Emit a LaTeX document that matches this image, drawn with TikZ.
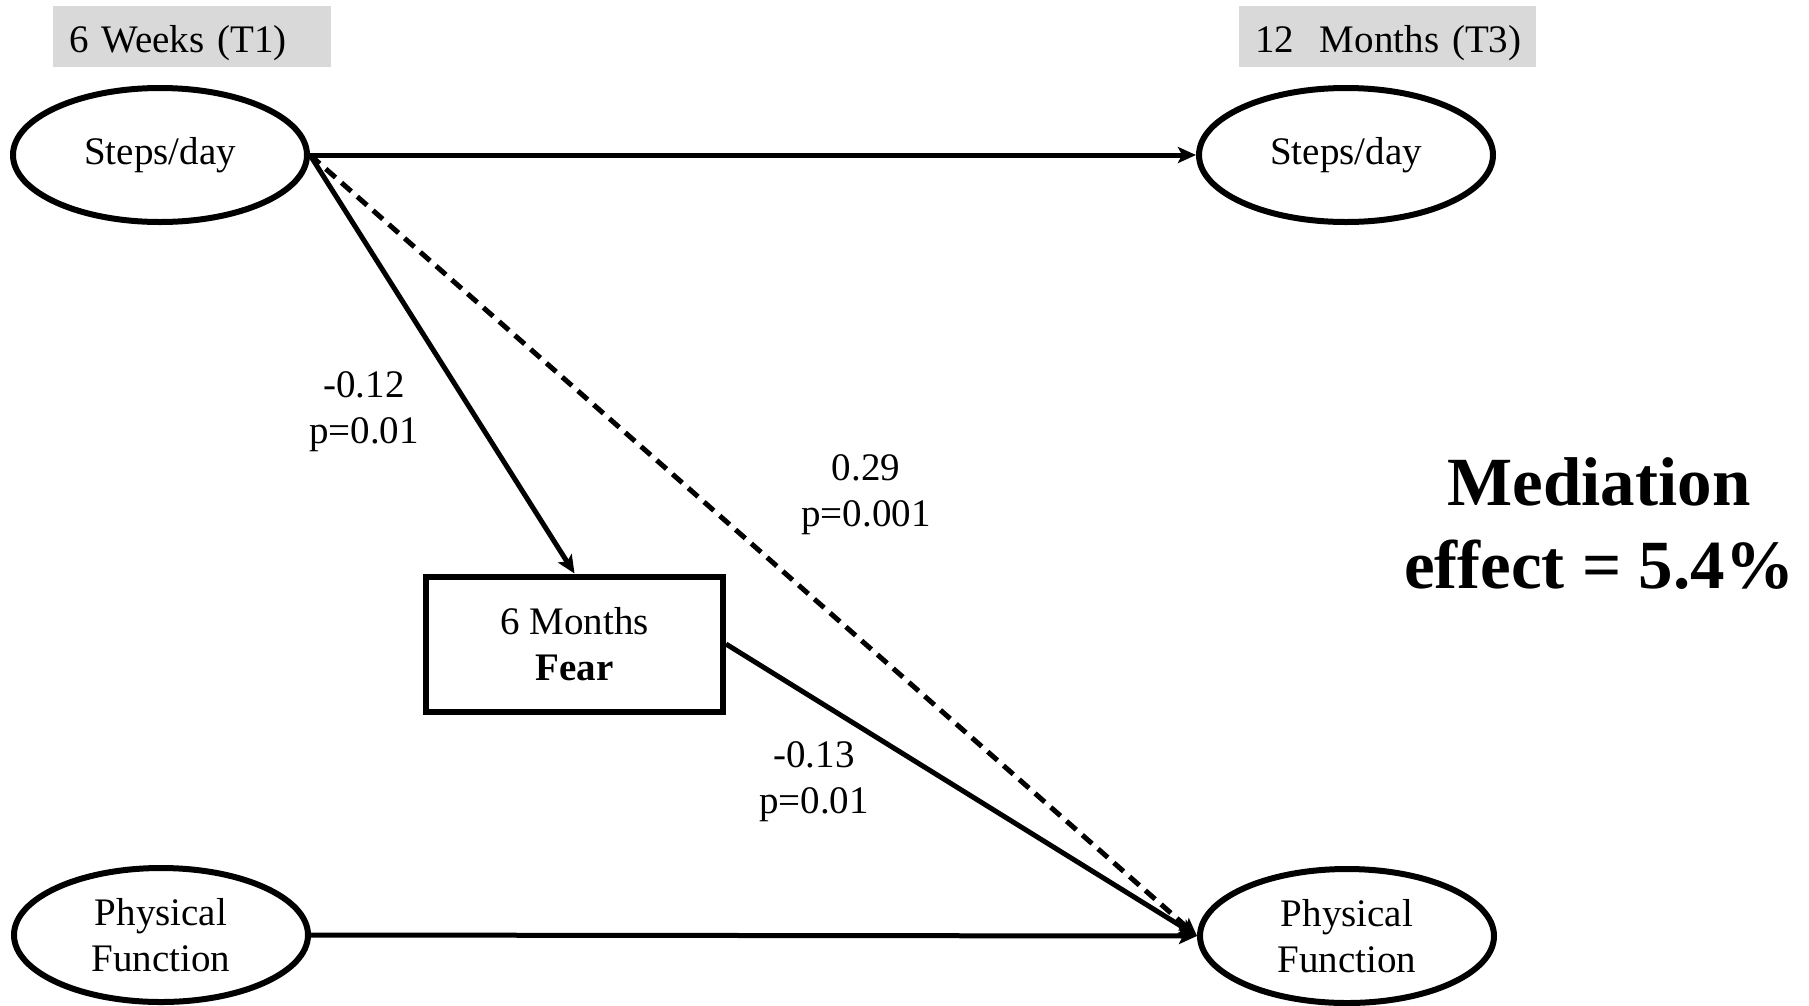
\documentclass[tikz,border=0pt]{standalone}
\usepackage{fontspec}
\setmainfont{Liberation Serif}
\usetikzlibrary{shapes.geometric,arrows.meta}
\definecolor{headgray}{HTML}{D9D9D9}
\begin{document}
\begin{tikzpicture}[x=1pt,y=-1pt,
  txt/.style={font=\fontsize{39}{46}\selectfont, align=center},
  timebox/.style={txt, fill=headgray, inner xsep=16pt, inner ysep=0pt,
    minimum height=61pt, text height=31pt, text depth=0pt, align=left},
  latent/.style={txt, ellipse, draw, line width=6pt, inner sep=0pt,
    minimum width=294pt, minimum height=134pt},
  mediator/.style={txt, rectangle, draw, line width=6pt, inner sep=0pt,
    minimum width=297pt, minimum height=135pt},
  path/.style={line width=5pt, -{Stealth[length=18pt,width=16pt,inset=4pt]}},
  coef/.style={txt, inner sep=0pt}
]
\useasboundingbox (0,0) rectangle (1809,1005);

% time point headers
\node[timebox, text width=246pt] (t1) at (192,36.5) {\mbox{6 Weeks (T1)}};
\node[timebox, text width=265pt] (t3) at (1387.5,36.5) {\mbox{12\ \ Months (T3)}};

% variables
\node[latent] (s1) at (160,155) {Steps/day};
\node[latent] (s3) at (1346,155) {Steps/day};
\node[latent] (pf1) at (161,935) {Physical\\Function};
\node[latent] (pf3) at (1347,936) {Physical\\Function};
\node[mediator] (fear) at (574.5,644) {6 Months\\\textbf{Fear}};

% paths
\draw[path] (s1.east) -- (s3.west);
\draw[path] (s1.east) -- (fear.north);
\draw[path, dash pattern=on 13pt off 8pt] (s1.east) -- (pf3.west);
\draw[path] (fear.east) -- (pf3.west);
\draw[path] (pf1.east) -- (pf3.west);

% coefficients
\node[coef] (ca) at (364,412) {-0.12\\p=0.01};
\node[coef] (cc) at (866,495) {0.29\\p=0.001};
\node[coef] (cb) at (814,782) {-0.13\\p=0.01};

% summary
\node[coef, font=\fontsize{69}{83}\selectfont\bfseries] (med) at (1599,524)
  {Mediation\\effect = 5.4\%};
\end{tikzpicture}
\end{document}
